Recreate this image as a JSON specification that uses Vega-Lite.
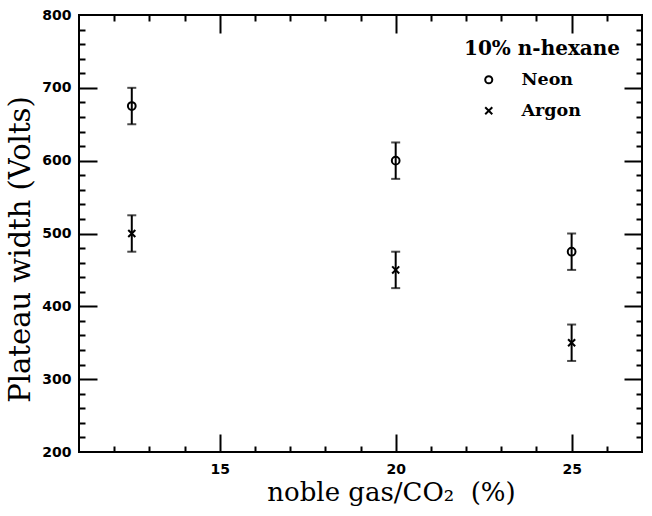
{
  "$schema": "https://vega.github.io/schema/vega-lite/v6.json",
  "autosize": {"type": "none"},
  "padding": {"left": 79, "top": 15, "right": 10, "bottom": 64},
  "width": 563,
  "height": 437,
  "background": "white",
  "config": {
    "view": {"stroke": "black", "strokeWidth": 2},
    "axis": {"grid": false, "domain": false, "tickColor": "black", "tickWidth": 2, "labelColor": "black", "titleColor": "black"}
  },
  "data": {
    "values": [
      {"ratio": 12.5, "width": 675, "lo": 650, "hi": 700, "gas": "Neon"},
      {"ratio": 20, "width": 600, "lo": 575, "hi": 625, "gas": "Neon"},
      {"ratio": 25, "width": 475, "lo": 450, "hi": 500, "gas": "Neon"},
      {"ratio": 12.5, "width": 500, "lo": 475, "hi": 525, "gas": "Argon"},
      {"ratio": 20, "width": 450, "lo": 425, "hi": 475, "gas": "Argon"},
      {"ratio": 25, "width": 350, "lo": 325, "hi": 375, "gas": "Argon"}
    ]
  },
  "resolve": {"axis": {"x": "independent", "y": "independent"}},
  "layer": [
    {
      "mark": {"type": "rule", "color": "black", "strokeWidth": 2},
      "encoding": {
        "x": {"field": "ratio", "type": "quantitative", "scale": {"domain": [11, 27], "nice": false, "zero": false},
          "axis": {"orient": "bottom", "ticks": false, "values": [15, 20, 25], "labelFont": "DejaVu Sans", "labelFontWeight": "bold", "labelFontSize": 14, "labelPadding": 10,
            "title": "noble gas/CO₂\u00a0\u00a0(%)", "titleFont": "DejaVu Serif", "titleFontWeight": "normal", "titleFontSize": 26, "titlePadding": 3, "titleX": 312}},
        "y": {"field": "lo", "type": "quantitative", "scale": {"domain": [200, 800], "nice": false, "zero": false},
          "axis": {"orient": "left", "ticks": false, "values": [200, 300, 400, 500, 600, 700, 800], "labelFont": "DejaVu Sans", "labelFontWeight": "bold", "labelFontSize": 14, "labelPadding": 8,
            "title": "Plateau width (Volts)", "titleFont": "DejaVu Serif", "titleFontWeight": "normal", "titleFontSize": 29, "titlePadding": 6, "titleY": 234}},
        "y2": {"field": "hi"}
      }
    },
    {
      "mark": {"type": "tick", "orient": "horizontal", "color": "black", "thickness": 2, "size": 9},
      "encoding": {
        "x": {"field": "ratio", "type": "quantitative",
          "axis": {"orient": "bottom", "labels": false, "title": null, "values": [15, 20, 25], "tickSize": -18}},
        "y": {"field": "lo", "type": "quantitative",
          "axis": {"orient": "left", "labels": false, "title": null, "values": [300, 400, 500, 600, 700], "tickSize": -18}}
      }
    },
    {
      "mark": {"type": "tick", "orient": "horizontal", "color": "black", "thickness": 2, "size": 9},
      "encoding": {
        "x": {"field": "ratio", "type": "quantitative",
          "axis": {"orient": "bottom", "labels": false, "title": null, "values": [12, 13, 14, 16, 17, 18, 19, 21, 22, 23, 24, 26], "tickSize": -6}},
        "y": {"field": "hi", "type": "quantitative",
          "axis": {"orient": "left", "labels": false, "title": null, "values": [220, 240, 260, 280, 320, 340, 360, 380, 420, 440, 460, 480, 520, 540, 560, 580, 620, 640, 660, 680, 720, 740, 760, 780], "tickSize": -6}}
      }
    },
    {
      "transform": [{"filter": "datum.gas === 'Neon'"}],
      "mark": {"type": "point", "filled": false, "color": "black", "strokeWidth": 2, "size": 60, "opacity": 1},
      "encoding": {
        "x": {"field": "ratio", "type": "quantitative",
          "axis": {"orient": "top", "labels": false, "title": null, "values": [15, 20, 25], "tickSize": -18}},
        "y": {"field": "width", "type": "quantitative",
          "axis": {"orient": "right", "labels": false, "title": null, "values": [300, 400, 500, 600, 700], "tickSize": -18}},
        "shape": {"field": "gas", "type": "nominal",
          "scale": {"domain": ["Neon", "Argon"], "range": ["circle", "M-1,-1L1,1M-1,1L1,-1"]},
          "legend": {"title": "10% n-hexane", "orient": "none", "legendX": 385, "legendY": 24,
            "titleFont": "DejaVu Serif", "titleFontWeight": "bold", "titleFontSize": 20, "titlePadding": 12, "titleColor": "black",
            "labelFont": "DejaVu Serif", "labelFontWeight": "bold", "labelFontSize": 17.5, "labelColor": "black", "labelOffset": 24,
            "symbolOffset": 16, "symbolSize": 50, "symbolStrokeWidth": 2, "symbolStrokeColor": "black", "symbolFillColor": "transparent", "rowPadding": 12}}
      }
    },
    {
      "transform": [{"filter": "datum.gas === 'Argon'"}],
      "mark": {"type": "point", "filled": false, "color": "black", "strokeWidth": 2, "size": 50, "opacity": 1},
      "encoding": {
        "x": {"field": "ratio", "type": "quantitative",
          "axis": {"orient": "top", "labels": false, "title": null, "values": [12, 13, 14, 16, 17, 18, 19, 21, 22, 23, 24, 26], "tickSize": -6}},
        "y": {"field": "width", "type": "quantitative",
          "axis": {"orient": "right", "labels": false, "title": null, "values": [220, 240, 260, 280, 320, 340, 360, 380, 420, 440, 460, 480, 520, 540, 560, 580, 620, 640, 660, 680, 720, 740, 760, 780], "tickSize": -6}},
        "shape": {"field": "gas", "type": "nominal"}
      }
    }
  ]
}
